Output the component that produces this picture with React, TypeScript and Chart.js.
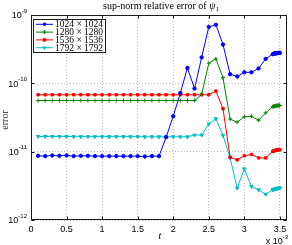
import React, { useEffect, useRef } from "react";
import { Chart, registerables } from "chart.js";

Chart.register(...registerables);

// time (in units of 10^-3)
const tValues = [
  0.1, 0.2, 0.3, 0.4, 0.5, 0.6, 0.7, 0.8, 0.9, 1.0, 1.1, 1.2, 1.3, 1.4, 1.5, 1.6, 1.7,
  1.8, 1.9, 2.0, 2.1, 2.2, 2.3, 2.4, 2.5, 2.6, 2.7, 2.8, 2.9, 3.0, 3.1, 3.2, 3.3, 3.4,
  3.41, 3.42, 3.43, 3.44, 3.45, 3.46, 3.47, 3.48, 3.49, 3.5,
];

const err1024 = [
  8.7e-12, 8.6e-12, 8.8e-12, 8.7e-12, 8.8e-12, 8.6e-12, 8.7e-12, 8.7e-12, 8.6e-12,
  8.6e-12, 8.6e-12, 8.6e-12, 8.6e-12, 8.6e-12, 8.6e-12, 8.5e-12, 8.6e-12, 8.6e-12,
  1.63e-11, 3.3e-11, 7.2e-11, 1.68e-10, 8.4e-11, 2.4e-10, 6.7e-10, 7.2e-10, 3.7e-10,
  1.36e-10, 1.26e-10, 1.45e-10, 1.45e-10, 1.65e-10, 2.28e-10, 2.67e-10,
  2.7e-10, 2.72e-10, 2.74e-10, 2.75e-10, 2.76e-10, 2.77e-10, 2.78e-10, 2.78e-10, 2.79e-10, 2.79e-10,
];

const err1280 = [
  5.6e-11, 5.6e-11, 5.6e-11, 5.6e-11, 5.6e-11, 5.6e-11, 5.6e-11, 5.6e-11, 5.6e-11,
  5.6e-11, 5.6e-11, 5.6e-11, 5.6e-11, 5.6e-11, 5.6e-11, 5.6e-11, 5.6e-11, 5.6e-11,
  5.6e-11, 5.6e-11, 5.6e-11, 5.6e-11, 5.6e-11,
  6.9e-11, 1.97e-10, 2.28e-10, 1.21e-10, 3.0e-11, 2.7e-11, 3.24e-11, 3.3e-11, 2.88e-11,
  3.7e-11, 4.55e-11,
  4.6e-11, 4.63e-11, 4.66e-11, 4.68e-11, 4.7e-11, 4.72e-11, 4.73e-11, 4.74e-11, 4.75e-11, 4.75e-11,
];

const err1536 = [
  6.8e-11, 6.8e-11, 6.8e-11, 6.8e-11, 6.8e-11, 6.8e-11, 6.8e-11, 6.8e-11, 6.8e-11,
  6.8e-11, 6.8e-11, 6.8e-11, 6.8e-11, 6.8e-11, 6.8e-11, 6.8e-11, 6.8e-11, 6.8e-11,
  6.8e-11, 6.8e-11, 6.8e-11, 6.8e-11, 6.8e-11, 6.8e-11, 6.8e-11,
  7.7e-11, 4.25e-11, 8.3e-12, 7.6e-12, 8.7e-12, 9.1e-12, 8.1e-12, 8.1e-12, 1.01e-11,
  1.02e-11, 1.03e-11, 1.04e-11, 1.05e-11, 1.05e-11, 1.06e-11, 1.06e-11, 1.07e-11, 1.07e-11, 1.07e-11,
];

const err1792 = [
  1.67e-11, 1.67e-11, 1.67e-11, 1.67e-11, 1.67e-11, 1.66e-11, 1.66e-11, 1.66e-11, 1.66e-11,
  1.66e-11, 1.66e-11, 1.66e-11, 1.66e-11, 1.66e-11, 1.66e-11, 1.65e-11, 1.65e-11, 1.65e-11,
  1.65e-11, 1.65e-11, 1.65e-11, 1.65e-11,
  1.75e-11, 1.75e-11, 2.55e-11, 3.03e-11, 1.72e-11, 8.1e-12, 2.94e-12, 5.6e-12, 3.1e-12,
  2.76e-12, 2.38e-12, 2.76e-12,
  2.8e-12, 2.83e-12, 2.85e-12, 2.87e-12, 2.89e-12, 2.9e-12, 2.91e-12, 2.92e-12, 2.93e-12, 2.94e-12,
];

const seriesLabels = ["1024 × 1024", "1280 × 1280", "1536 × 1536", "1792 × 1792"];
const seriesColors = ["#0000ff", "#008000", "#ff0000", "#00bfbf"];
const seriesMarkers = ["circle", "cross", "rect", "triangle"];
const seriesRotations = [0, 0, 0, 180];

const xTicks = [0, 0.5, 1, 1.5, 2, 2.5, 3, 3.5];
const xTickLabels = ["0", "0.5", "1", "1.5", "2", "2.5", "3", "3.5"];
const yTicks = [1e-12, 1e-11, 1e-10, 1e-9];
const yTickExponents = ["-12", "-11", "-10", "-9"];

const titleText = "sup-norm relative error of ";
const titleSymbol = "ψ";
const titleSub = "1";
const xLabel = "t";
const yLabel = "error";
const xScaleExponent = "-3";

const SANS = '"Liberation Sans", Arial, sans-serif';
const SERIF = '"Liberation Serif", "Times New Roman", serif';

function drawMarker(ctx: CanvasRenderingContext2D, style: string, x: number, y: number, color: string) {
  ctx.save();
  ctx.fillStyle = color;
  ctx.strokeStyle = color;
  ctx.lineWidth = 1;
  ctx.beginPath();
  if (style === "circle") {
    ctx.arc(x, y, 1.8, 0, Math.PI * 2);
    ctx.fill();
  } else if (style === "cross") {
    ctx.moveTo(x - 2, y);
    ctx.lineTo(x + 2, y);
    ctx.moveTo(x, y - 2);
    ctx.lineTo(x, y + 2);
    ctx.stroke();
  } else if (style === "rect") {
    ctx.rect(x - 1.7, y - 1.7, 3.4, 3.4);
    ctx.fill();
  } else {
    ctx.moveTo(x - 2.2, y - 1.3);
    ctx.lineTo(x + 2.2, y - 1.3);
    ctx.lineTo(x, y + 2.2);
    ctx.closePath();
    ctx.fill();
  }
  ctx.restore();
}

const decorPlugin = {
  id: "decor",
  afterDraw(chart: any) {
    const ctx: CanvasRenderingContext2D = chart.ctx;
    const area = chart.chartArea;
    const xs = chart.scales.x;
    const ys = chart.scales.y;
    ctx.save();

    // frame
    ctx.strokeStyle = "#1a1a1a";
    ctx.lineWidth = 1;
    const L = Math.round(area.left) + 0.5;
    const R = Math.round(area.right) - 0.5;
    const T = Math.round(area.top) + 0.5;
    const B = Math.round(area.bottom) - 0.5;
    ctx.strokeRect(L, T, R - L, B - T);

    // inward tick marks
    ctx.beginPath();
    xTicks.forEach((v) => {
      const px = Math.round(xs.getPixelForValue(v)) + 0.5;
      ctx.moveTo(px, B);
      ctx.lineTo(px, B - 3);
      ctx.moveTo(px, T);
      ctx.lineTo(px, T + 3);
    });
    yTicks.forEach((v) => {
      const py = Math.round(ys.getPixelForValue(v)) + 0.5;
      ctx.moveTo(L, py);
      ctx.lineTo(L + 3, py);
      ctx.moveTo(R, py);
      ctx.lineTo(R - 3, py);
    });
    ctx.stroke();

    ctx.fillStyle = "#000";
    // x tick labels
    ctx.font = `9px ${SANS}`;
    ctx.textAlign = "center";
    ctx.textBaseline = "alphabetic";
    xTicks.forEach((v, i) => {
      ctx.fillText(xTickLabels[i], xs.getPixelForValue(v), 231.5);
    });

    // y tick labels 10^e
    yTicks.forEach((v, i) => {
      const py = ys.getPixelForValue(v);
      ctx.font = `6px ${SANS}`;
      const supW = ctx.measureText(yTickExponents[i]).width;
      ctx.font = `9px ${SANS}`;
      const baseW = ctx.measureText("10").width;
      const right = 27;
      ctx.textAlign = "left";
      ctx.fillText("10", right - supW - baseW, py + 3.3);
      ctx.font = `6px ${SANS}`;
      ctx.fillText(yTickExponents[i], right - supW, py - 2.5);
    });

    // x scale factor "x 10^-3"
    ctx.font = `6px ${SANS}`;
    const expW = ctx.measureText(xScaleExponent).width;
    ctx.font = `9px ${SANS}`;
    const mW = ctx.measureText("x 10").width;
    const xr = 288;
    ctx.textAlign = "left";
    ctx.fillText("x 10", xr - expW - mW, 244);
    ctx.font = `6px ${SANS}`;
    ctx.fillText(xScaleExponent, xr - expW, 238.5);

    // title
    ctx.font = `10px ${SERIF}`;
    const w1 = ctx.measureText(titleText).width;
    ctx.font = `italic 10px ${SERIF}`;
    const w2 = ctx.measureText(titleSymbol).width;
    ctx.font = `7px ${SERIF}`;
    const w3 = ctx.measureText(titleSub).width;
    const tx = 161 - (w1 + w2 + w3) / 2;
    ctx.font = `10px ${SERIF}`;
    ctx.fillText(titleText, tx, 9);
    ctx.font = `italic 10px ${SERIF}`;
    ctx.fillText(titleSymbol, tx + w1, 9);
    ctx.font = `7px ${SERIF}`;
    ctx.fillText(titleSub, tx + w1 + w2, 11);

    // x label
    ctx.font = `italic 10px ${SERIF}`;
    ctx.textAlign = "center";
    ctx.fillText(xLabel, 160, 239);

    // y label
    ctx.save();
    ctx.translate(7.5, 120);
    ctx.rotate(-Math.PI / 2);
    ctx.font = `10px ${SERIF}`;
    ctx.textAlign = "center";
    ctx.fillStyle = "#222";
    ctx.fillText(yLabel, 0, 0);
    ctx.restore();

    // legend
    ctx.fillStyle = "#fff";
    ctx.fillRect(33.5, 19.5, 72, 33);
    ctx.strokeStyle = "#1a1a1a";
    ctx.lineWidth = 1;
    ctx.strokeRect(33.5, 19.5, 72, 33);
    chart.data.datasets.forEach((ds: any, i: number) => {
      const ry = 24.3 + i * 7.8;
      ctx.strokeStyle = seriesColors[i];
      ctx.lineWidth = 1;
      ctx.beginPath();
      ctx.moveTo(36, ry);
      ctx.lineTo(53, ry);
      ctx.stroke();
      drawMarker(ctx, seriesMarkers[i], 44.5, ry, seriesColors[i]);
      ctx.fillStyle = "#000";
      ctx.font = `9.5px ${SERIF}`;
      ctx.textAlign = "left";
      ctx.textBaseline = "middle";
      ctx.fillText(ds.label, 55, ry + 0.5);
      ctx.textBaseline = "alphabetic";
    });

    ctx.restore();
  },
};

export default function App() {
  const canvasRef = useRef<HTMLCanvasElement | null>(null);

  useEffect(() => {
    const canvas = canvasRef.current;
    if (!canvas) return;
    const seriesValues = [err1024, err1280, err1536, err1792];
    const chart = new Chart(canvas, {
      type: "line",
      data: {
        datasets: seriesValues.map((vals, i) => ({
          label: seriesLabels[i],
          data: tValues.map((t, j) => ({ x: t, y: vals[j] })),
          borderColor: seriesColors[i],
          backgroundColor: seriesColors[i],
          borderWidth: 1,
          pointStyle: seriesMarkers[i] as any,
          pointRotation: seriesRotations[i],
          pointRadius: seriesMarkers[i] === "cross" ? 2 : seriesMarkers[i] === "triangle" ? 2 : 1.7,
          pointBorderWidth: 1,
          pointBorderColor: seriesColors[i],
          pointBackgroundColor: seriesColors[i],
          tension: 0,
          fill: false,
        })),
      },
      options: {
        responsive: false,
        animation: false,
        devicePixelRatio: 1,
        layout: { padding: { left: 31, top: 15, right: 5, bottom: 25 } },
        plugins: {
          legend: { display: false },
          title: { display: false },
          tooltip: { enabled: false },
        },
        scales: {
          x: {
            type: "linear",
            min: 0,
            max: 3.6,
            afterBuildTicks: (s: any) => {
              s.ticks = xTicks.map((v) => ({ value: v }));
            },
            ticks: { display: false },
            grid: { color: "#bdbdbd", drawTicks: false, lineWidth: 1 },
            border: { display: false, dash: [1, 2] },
          },
          y: {
            type: "logarithmic",
            min: 1e-12,
            max: 1e-9,
            afterBuildTicks: (s: any) => {
              s.ticks = yTicks.map((v) => ({ value: v }));
            },
            ticks: { display: false },
            grid: { color: "#bdbdbd", drawTicks: false, lineWidth: 1 },
            border: { display: false, dash: [1, 2] },
          },
        },
      },
      plugins: [decorPlugin],
    });
    return () => chart.destroy();
  }, []);

  return (
    <div style={{ position: "fixed", left: 0, top: 0, width: 292, height: 245, background: "#fff" }}>
      <canvas ref={canvasRef} width={292} height={245} style={{ width: 292, height: 245 }} />
    </div>
  );
}
